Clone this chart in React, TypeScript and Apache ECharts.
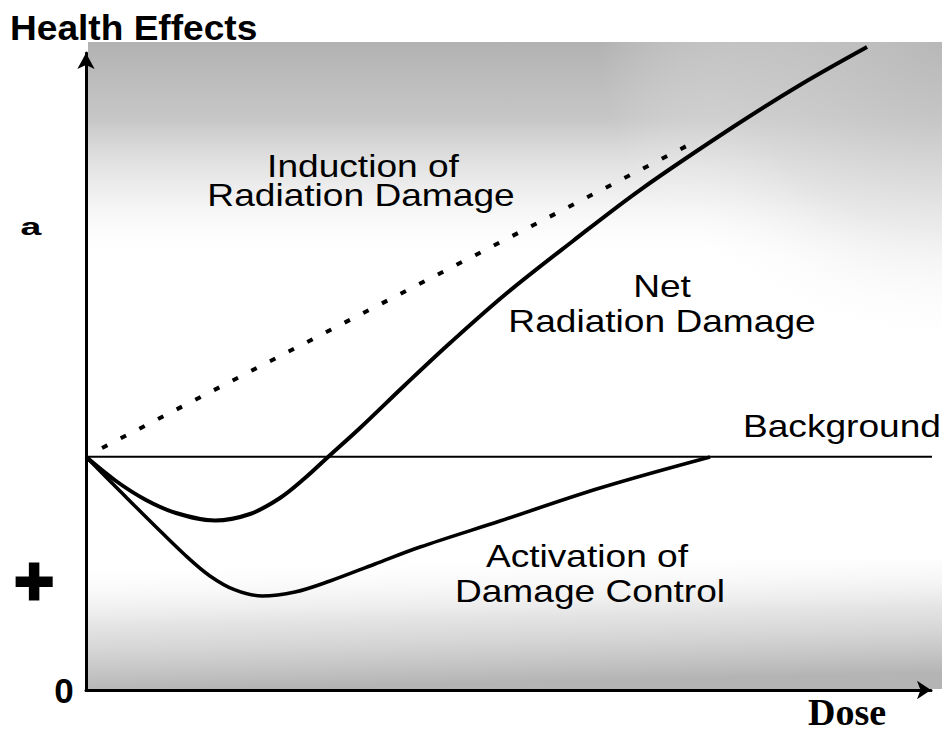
import React, { useEffect, useRef } from "react";
import * as echarts from "echarts";

// Dose (x) vs Health Effects (y), arbitrary units
const BACKGROUND_LEVEL = 36.6;
const backgroundX = [0, 101.3];

const inductionDose = [1.9, 71.8];
const inductionEffect = [38.0, 85.9];

const netDose = [0, 3.55, 7.1, 10.65, 15.27, 19.41, 22.96, 25.92, 28.64, 32.43, 37.75, 43.08, 49.82, 57.63, 65.56, 76.57, 84.5, 92.43];
const netEffect = [36.6, 32.81, 29.83, 27.79, 26.61, 27.63, 30.14, 33.28, 36.58, 41.13, 47.88, 54.47, 62.32, 70.49, 78.49, 88.38, 94.98, 100.94];

const controlDose = [0, 4.02, 8.17, 11.72, 14.67, 17.63, 20.83, 24.73, 28.88, 34.2, 39.53, 48.99, 60.83, 73.85];
const controlEffect = [36.6, 31.24, 25.75, 21.19, 17.9, 15.7, 14.76, 15.38, 17.11, 19.78, 22.45, 26.53, 31.71, 36.58];

const SANS = "'Liberation Sans', Arial, sans-serif";

const zip = (xs: number[], ys: number[]) => xs.map((x, i) => [x, ys[i]]);

export default function App() {
  const ref = useRef<HTMLDivElement>(null);

  useEffect(() => {
    if (!ref.current) return;
    const chart = echarts.init(ref.current, null, { renderer: "svg" });

    const label = (text: string, x: number, y: number, align: string = "center") => ({
      type: "text",
      x,
      y,
      scaleX: 1.16,
      z: 10,
      style: {
        text,
        x: 0,
        y: 0,
        align,
        verticalAlign: "middle",
        font: `32px ${SANS}`,
        fill: "#000",
      },
    });

    chart.setOption({
      animation: false,
      backgroundColor: "#fff",
      grid: { left: 86, right: 11, top: 53, bottom: 43, containLabel: false },
      xAxis: {
        type: "value",
        min: 0,
        max: 100,
        axisLine: {
          show: true,
          lineStyle: { color: "#000", width: 3 },
          symbol: ["none", "arrow"],
          symbolSize: [14, 14],
        },
        axisTick: { show: false },
        axisLabel: { show: false },
        splitLine: { show: false },
      },
      yAxis: {
        type: "value",
        min: 0,
        max: 100,
        axisLine: {
          show: true,
          lineStyle: { color: "#000", width: 3 },
          symbol: ["none", "arrow"],
          symbolSize: [13, 16],
        },
        axisTick: { show: false },
        axisLabel: { show: false },
        splitLine: { show: false },
      },
      graphic: [
        {
          type: "rect",
          z: -5,
          silent: true,
          shape: { x: 88, y: 42, width: 854, height: 220 },
          style: {
            fill: {
              type: "linear",
              x: 0,
              y: 0,
              x2: 0,
              y2: 1,
              colorStops: [
                { offset: 0, color: "rgba(178,178,178,1)" },
                { offset: 0.35, color: "rgba(192,192,192,0.9)" },
                { offset: 0.7, color: "rgba(225,225,225,0.5)" },
                { offset: 1, color: "rgba(255,255,255,0)" },
              ],
            },
          },
        },
        {
          type: "rect",
          z: -4,
          silent: true,
          shape: { x: 600, y: 42, width: 342, height: 310 },
          style: {
            fill: {
              type: "radial",
              x: 1,
              y: 0,
              r: 1,
              colorStops: [
                { offset: 0, color: "rgba(185,185,185,0.8)" },
                { offset: 0.6, color: "rgba(215,215,215,0.45)" },
                { offset: 1, color: "rgba(255,255,255,0)" },
              ],
            },
          },
        },
        {
          type: "rect",
          z: -5,
          silent: true,
          shape: { x: 88, y: 560, width: 854, height: 129 },
          style: {
            fill: {
              type: "linear",
              x: 0,
              y: 0,
              x2: 0.15,
              y2: 1,
              colorStops: [
                { offset: 0, color: "rgba(255,255,255,0)" },
                { offset: 0.5, color: "rgba(210,210,210,0.6)" },
                { offset: 1, color: "rgba(180,180,180,1)" },
              ],
            },
          },
        },
        {
          type: "text",
          x: 10,
          y: 28,
          scaleX: 1.06,
          z: 10,
          style: {
            text: "Health Effects",
            x: 0,
            y: 0,
            align: "left",
            verticalAlign: "middle",
            font: `bold 35px ${SANS}`,
            fill: "#000",
          },
        },
        {
          type: "text",
          x: 31,
          y: 229,
          scaleX: 1.6,
          z: 10,
          style: {
            text: "a",
            x: 0,
            y: 0,
            align: "center",
            verticalAlign: "middle",
            font: `bold 24px 'Liberation Mono', monospace`,
            fill: "#000",
          },
        },
        {
          type: "text",
          x: 34,
          y: 580,
          z: 10,
          style: {
            text: "+",
            x: 0,
            y: 0,
            align: "center",
            verticalAlign: "middle",
            font: `bold 68px ${SANS}`,
            fill: "#000",
            stroke: "#000",
            lineWidth: 3,
          },
        },
        {
          type: "text",
          x: 64,
          y: 690,
          z: 10,
          style: {
            text: "0",
            x: 0,
            y: 0,
            align: "center",
            verticalAlign: "middle",
            font: `bold 35px ${SANS}`,
            fill: "#000",
          },
        },
        {
          type: "text",
          x: 808,
          y: 712,
          z: 10,
          style: {
            text: "Dose",
            x: 0,
            y: 0,
            align: "left",
            verticalAlign: "middle",
            lineHeight: 30,
            font: `bold 38px 'Liberation Serif', 'Times New Roman', serif`,
            fill: "#000",
          },
        },
        label("Induction of", 363, 166),
        label("Radiation Damage", 361, 195),
        label("Net", 662, 286),
        label("Radiation Damage", 662, 321),
        label("Background", 941, 426, "right"),
        label("Activation of", 587, 556),
        label("Damage Control", 590, 591),
      ],
      series: [
        {
          name: "Background",
          type: "line",
          data: zip(backgroundX, backgroundX.map(() => BACKGROUND_LEVEL)),
          showSymbol: false,
          clip: false,
          lineStyle: { color: "#000", width: 2 },
        },
        {
          name: "Induction of Radiation Damage",
          type: "line",
          data: zip(inductionDose, inductionEffect),
          showSymbol: false,
          clip: false,
          lineStyle: { color: "#000", width: 4, type: [6, 15], cap: "butt" },
        },
        {
          name: "Net Radiation Damage",
          type: "line",
          data: zip(netDose, netEffect),
          showSymbol: false,
          smooth: 0.35,
          clip: false,
          lineStyle: { color: "#000", width: 4 },
        },
        {
          name: "Activation of Damage Control",
          type: "line",
          data: zip(controlDose, controlEffect),
          showSymbol: false,
          smooth: 0.35,
          clip: false,
          lineStyle: { color: "#000", width: 3.5 },
        },
      ],
    });

    return () => chart.dispose();
  }, []);

  return (
    <div
      ref={ref}
      style={{ position: "fixed", left: 0, top: 0, width: 942, height: 733 }}
    />
  );
}
